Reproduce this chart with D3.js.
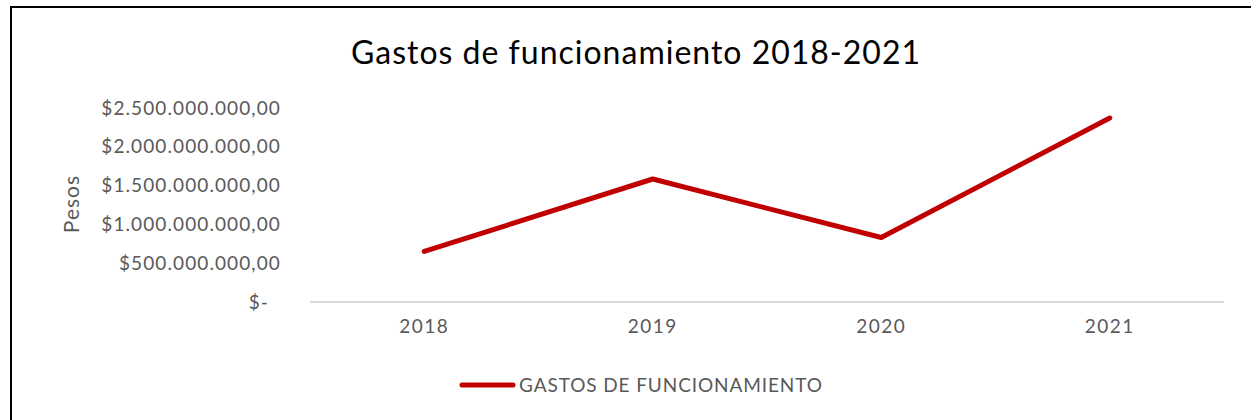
<!DOCTYPE html>
<html>
<head>
<meta charset="utf-8">
<script src="https://cdn.jsdelivr.net/npm/d3@7"></script>
<style>
  html, body { margin: 0; padding: 0; background: #fff; }
  svg { display: block; }
  text { font-family: Lato, "Open Sans", sans-serif; }
</style>
</head>
<body>
<svg id="chart" width="1251" height="420"></svg>
<script>
// Data: operating expenses per year (pesos)
const years = ["2018", "2019", "2020", "2021"];
const gastos = [651000000, 1585000000, 831000000, 2371000000];
const yTicks = [0, 500000000, 1000000000, 1500000000, 2000000000, 2500000000];
const titleText = "Gastos de funcionamiento 2018-2021";
const yAxisTitle = "Pesos";
const seriesName = "GASTOS DE FUNCIONAMIENTO";

const W = 1251, H = 420;
const margin = { top: 108, right: 27, bottom: 118, left: 310 };
const lineColor = "#C00000";
const textGray = "#595959";

const svg = d3.select("#chart");

// Chart frame
svg.append("path")
  .attr("d", `M11,${H} L11,7 L${W},7`)
  .attr("fill", "none")
  .attr("stroke", "#000")
  .attr("stroke-width", 2);

const x = d3.scaleBand()
  .domain(years)
  .range([margin.left, W - margin.right]);

const y = d3.scaleLinear()
  .domain([0, 2500000000])
  .range([H - margin.bottom, margin.top]);

const locale = d3.formatLocale({ decimal: ",", thousands: ".", grouping: [3], currency: ["$", ""] });
const money = locale.format("$,.2f");
const fmt = d => d === 0 ? "$-" : money(d);

// Title
svg.append("text")
  .attr("x", 636)
  .attr("y", 64)
  .attr("text-anchor", "middle")
  .attr("font-size", 32)
  .attr("letter-spacing", 1)
  .attr("fill", "#000")
  .text(titleText);

// Y axis (labels only)
const yAxis = svg.append("g")
  .attr("transform", `translate(${margin.left},0)`)
  .call(d3.axisLeft(y).tickValues(yTicks).tickFormat(fmt).tickSize(0).tickPadding(29));
yAxis.select(".domain").remove();
yAxis.selectAll("text")
  .attr("font-size", 19)
  .attr("font-family", "Lato, sans-serif")
  .attr("letter-spacing", 1.1)
  .attr("fill", textGray)
  .attr("dx", d => d === 0 ? -12 : 0);

// Baseline
svg.append("line")
  .attr("x1", margin.left)
  .attr("x2", W - margin.right)
  .attr("y1", y(0))
  .attr("y2", y(0))
  .attr("stroke", "#d9d9d9")
  .attr("stroke-width", 2);

// X axis (labels only)
const xAxis = svg.append("g")
  .attr("transform", `translate(0,${y(0)})`)
  .call(d3.axisBottom(x).tickSize(0).tickPadding(18));
xAxis.select(".domain").remove();
xAxis.selectAll("text")
  .attr("font-size", 19)
  .attr("font-family", "Lato, sans-serif")
  .attr("letter-spacing", 1.5)
  .attr("fill", textGray);

// Y axis title
svg.append("text")
  .attr("transform", `translate(79,204) rotate(-90)`)
  .attr("text-anchor", "middle")
  .attr("font-size", 21)
  .attr("letter-spacing", 1)
  .attr("fill", textGray)
  .text(yAxisTitle);

// Series line
const line = d3.line()
  .x((d, i) => x(years[i]) + x.bandwidth() / 2)
  .y(d => y(d));

svg.append("path")
  .datum(gastos)
  .attr("d", line)
  .attr("fill", "none")
  .attr("stroke", lineColor)
  .attr("stroke-width", 5)
  .attr("stroke-linecap", "round")
  .attr("stroke-linejoin", "round");

// Legend
const legend = svg.append("g").attr("transform", "translate(462,385)");
legend.append("line")
  .attr("x1", 0).attr("x2", 51)
  .attr("y1", 0).attr("y2", 0)
  .attr("stroke", lineColor)
  .attr("stroke-width", 5)
  .attr("stroke-linecap", "round");
legend.append("text")
  .attr("x", 57)
  .attr("y", 7)
  .attr("font-size", 19)
  .attr("letter-spacing", 0.9)
  .attr("fill", textGray)
  .text(seriesName);
</script>
</body>
</html>
